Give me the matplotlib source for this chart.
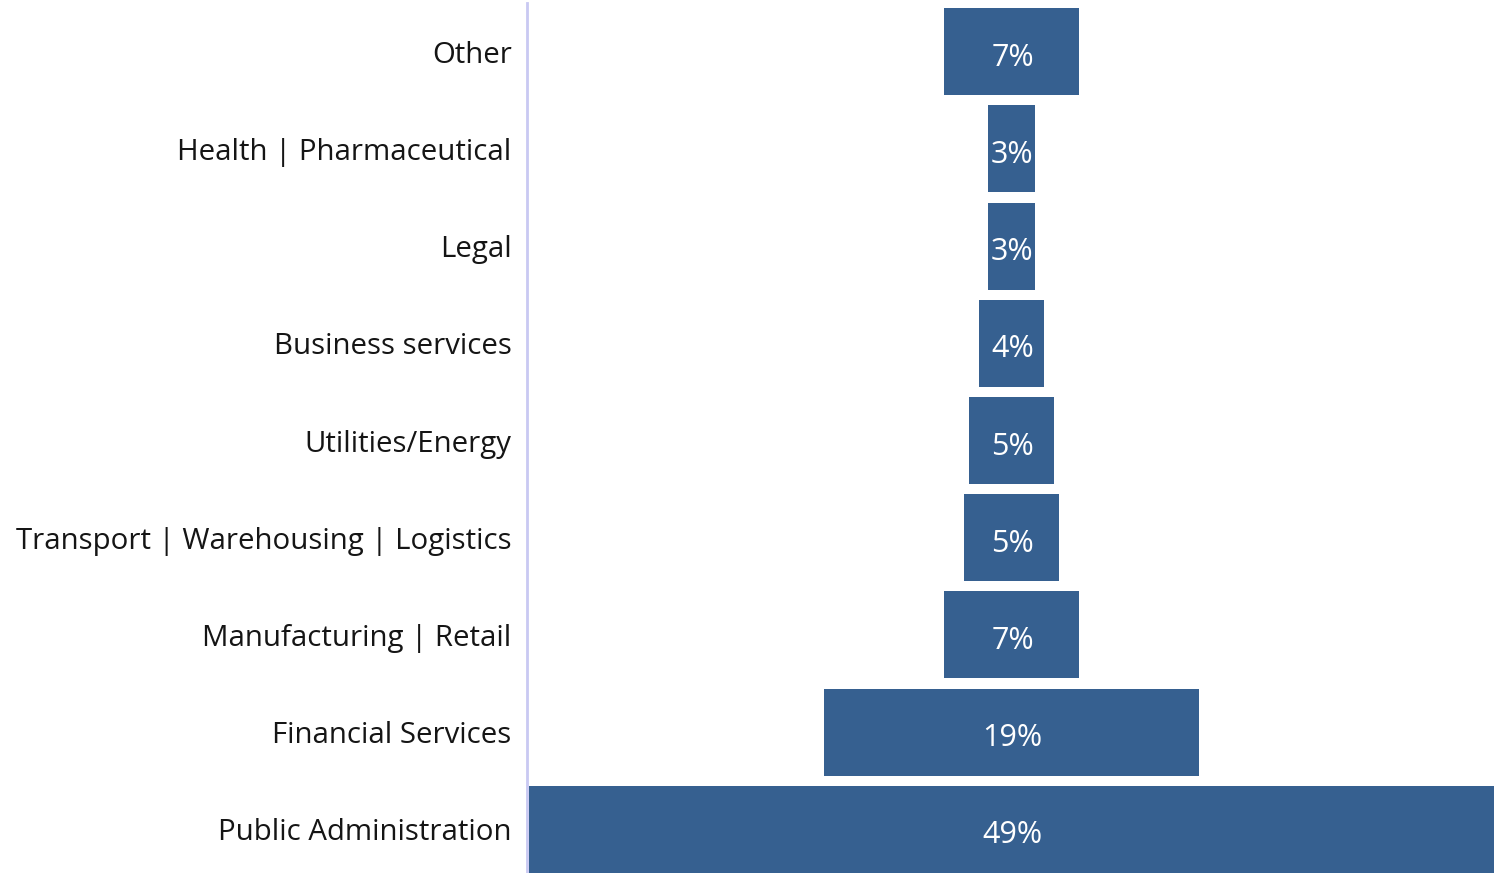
import matplotlib
matplotlib.use("Agg")
import matplotlib.pyplot as plt
from matplotlib.transforms import ScaledTranslation

# top to bottom as shown
categories = ["Other", "Health | Pharmaceutical", "Legal", "Business services", "Utilities/Energy",
              "Transport | Warehousing | Logistics", "Manufacturing | Retail", "Financial Services",
              "Public Administration"]
shares = [6.9, 2.35, 2.35, 3.35, 4.3, 4.8, 6.9, 19.05, 49.0]
share_labels = ["7%", "3%", "3%", "4%", "5%", "5%", "7%", "19%", "49%"]

BAR = "#366090"
plt.rcParams["font.family"] = ["Open Sans", "DejaVu Sans"]

fig = plt.figure(figsize=(14.94, 8.73), dpi=100)
W, H = 1494, 873
ax = fig.add_axes([527 / W, -5 / H, 969 / W, 875 / H])
down = ScaledTranslation(0, -2.5 / 100, fig.dpi_scale_trans)   # nudge text a couple px down

n = len(categories)
ys = list(range(n - 1, -1, -1))
for y, v, lab in zip(ys, shares, share_labels):
    ax.barh(y, v, left=-v / 2, height=0.895, color=BAR, linewidth=0)
    ax.text(0.05, y, lab, ha="center", va="center_baseline", color="white", fontsize=22,
            transform=ax.transData + down)

ax.set_xlim(-24.6, 24.6)
ax.set_ylim(-0.5, n - 0.5)
ax.set_yticks(ys)
ax.set_yticklabels(categories, fontsize=21.2, color="#151515", va="center_baseline")
for t in ax.get_yticklabels():
    t.set_transform(t.get_transform() + down)
ax.tick_params(axis="y", length=0, pad=11)
ax.set_xticks([])
for s in ("top", "right", "bottom"):
    ax.spines[s].set_visible(False)
ax.spines["left"].set_color("#c9c9f2")
ax.spines["left"].set_linewidth(2)

fig.savefig("out.png", dpi=100)
